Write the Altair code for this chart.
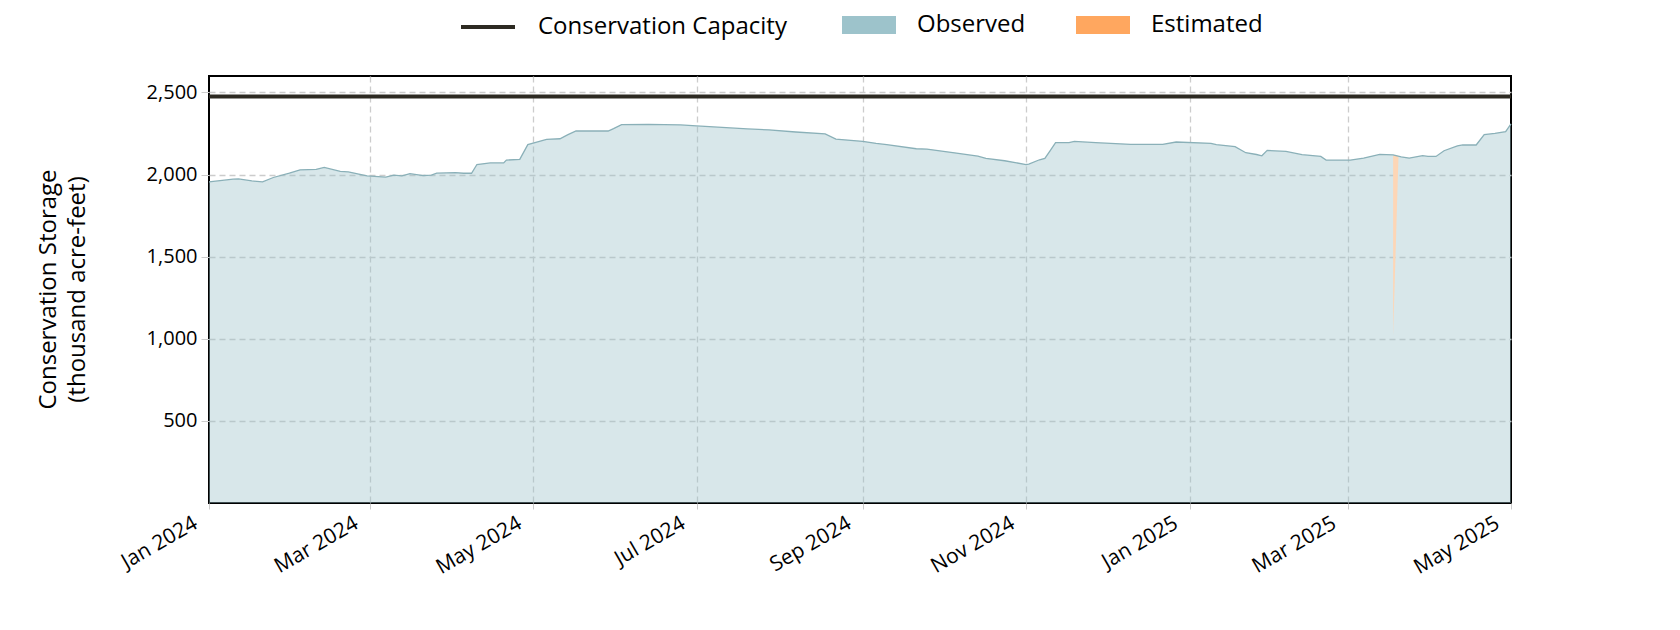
import altair as alt
import pandas as pd

FONT = "Open Sans"

obs_dates = [
    "2024-01-01", "2024-01-10", "2024-01-12", "2024-01-17", "2024-01-21", "2024-01-25",
    "2024-01-31", "2024-02-04", "2024-02-10", "2024-02-13", "2024-02-19", "2024-02-22",
    "2024-02-29", "2024-03-07", "2024-03-10", "2024-03-13", "2024-03-16", "2024-03-21",
    "2024-03-24", "2024-03-26", "2024-04-02", "2024-04-05", "2024-04-08", "2024-04-10",
    "2024-04-15", "2024-04-20", "2024-04-21", "2024-04-26", "2024-04-29", "2024-05-03",
    "2024-05-06", "2024-05-11", "2024-05-14", "2024-05-17", "2024-05-29", "2024-05-31",
    "2024-06-03", "2024-06-13", "2024-06-25", "2024-07-01", "2024-07-20", "2024-07-28",
    "2024-08-07", "2024-08-18", "2024-08-22", "2024-09-01", "2024-09-06", "2024-09-10",
    "2024-09-21", "2024-09-25", "2024-10-06", "2024-10-14", "2024-10-17", "2024-10-24",
    "2024-11-01", "2024-11-02", "2024-11-06", "2024-11-08", "2024-11-10", "2024-11-12",
    "2024-11-17", "2024-11-19", "2024-11-27", "2024-12-10", "2024-12-22", "2024-12-27",
    "2025-01-09", "2025-01-11", "2025-01-18", "2025-01-22", "2025-01-26", "2025-01-28",
    "2025-01-30", "2025-02-06", "2025-02-12", "2025-02-19", "2025-02-21", "2025-03-02",
    "2025-03-07", "2025-03-13", "2025-03-18", "2025-03-21", "2025-03-24", "2025-03-29",
    "2025-03-31", "2025-04-03", "2025-04-06", "2025-04-11", "2025-04-13", "2025-04-18",
    "2025-04-21", "2025-04-25", "2025-04-29", "2025-05-01",
]
obs_values = [
    1955, 1972, 1973, 1961, 1955, 1982,
    2008, 2029, 2032, 2043, 2019, 2016,
    1992, 1984, 1996, 1992, 2006, 1994,
    1996, 2008, 2012, 2008, 2008, 2061,
    2071, 2071, 2088, 2092, 2182, 2200,
    2214, 2218, 2243, 2265, 2265, 2280,
    2304, 2306, 2302, 2296, 2278, 2272,
    2259, 2247, 2216, 2202, 2190, 2182,
    2157, 2155, 2131, 2112, 2098, 2084,
    2061, 2063, 2090, 2098, 2145, 2194,
    2194, 2202, 2194, 2184, 2184, 2198,
    2190, 2182, 2170, 2133, 2122, 2114,
    2147, 2141, 2121, 2110, 2088, 2088,
    2100, 2123, 2120, 2108, 2100, 2115,
    2110, 2110, 2145, 2174, 2180, 2180,
    2243, 2251, 2261, 2308,
]

est_dates = ["2025-03-18", "2025-03-20"]
est_upper = [2118, 2110]
est_lower = [1020, 2110]

capacity = 2475
y_ticks = [500, 1000, 1500, 2000, 2500]
x_ticks = ["2024-01-01", "2024-03-01", "2024-05-01", "2024-07-01", "2024-09-01",
           "2024-11-01", "2025-01-01", "2025-03-01", "2025-05-01"]

obs = pd.DataFrame({"date": obs_dates, "value": obs_values, "series": "Observed"})
est = pd.DataFrame({"date": est_dates, "upper": est_upper, "lower": est_lower, "series": "Estimated"})
cap = pd.DataFrame({"label": ["Conservation Capacity"], "value": [capacity]})

x_scale = alt.Scale(domain=["2024-01-01T00:00:00", "2025-05-01T00:00:00"], nice=False)
y_scale = alt.Scale(domain=[0, 2600], nice=False, zero=True)

edge_test = ("datum.value <= time(datetime(2024, 0, 1)) + 3600000 || "
             "datum.value >= time(datetime(2025, 4, 1)) - 3600000")

x_axis = alt.Axis(
    values=[pd.Timestamp(d).isoformat() for d in x_ticks],
    format="%b %Y", labelAngle=-30, labelAlign="right", labelBaseline="top",
    labelOffset=-19, title=None, grid=True, gridDash=[6, 4], gridColor="#cccccc",
    gridOpacity={"condition": {"test": edge_test, "value": 0}, "value": 1},
    gridWidth=1.3, tickColor="#cccccc", tickSize=6, labelPadding=3, domain=False,
    labelFontSize=21, labelFont=FONT, labelColor="black", zindex=0,
)
y_axis = alt.Axis(
    values=y_ticks, format=",.0f", title=["Conservation Storage", "(thousand acre-feet)"],
    titleFontSize=24, titleFont=FONT, titleFontWeight="normal", titleColor="black",
    titleX=-161, titleY=213, titleBaseline="middle", titleLineHeight=29,
    grid=True, gridDash=[6, 4], gridColor="#cccccc", gridWidth=1.3,
    tickColor="#cccccc", tickSize=8, labelPadding=4, domain=False,
    labelFontSize=20, labelFont=FONT, labelColor="black", zindex=0,
)

fill_legend = alt.Legend(
    title=None, orient="none", legendX=633, legendY=-78, direction="horizontal",
    symbolType="M-1,-0.33H1V0.33H-1Z", symbolSize=2916, symbolOpacity=1,
    symbolStrokeWidth=0, labelFontSize=24, labelFont=FONT, labelColor="black",
    labelOffset=21, columnPadding=50, padding=0, labelLimit=0, gridAlign="none",
)
stroke_legend = alt.Legend(
    title=None, orient="none", legendX=250, legendY=-78, direction="horizontal",
    symbolType="stroke", symbolSize=2916, symbolStrokeWidth=4,
    labelFontSize=24, labelFont=FONT, labelColor="black", labelOffset=21, padding=0,
    labelLimit=0,
)

obs_area = alt.Chart(obs).mark_area(opacity=0.4).encode(
    x=alt.X("date:T", scale=x_scale, axis=x_axis),
    y=alt.Y("value:Q", scale=y_scale, axis=y_axis),
    fill=alt.Fill("series:N", scale=alt.Scale(domain=["Observed", "Estimated"],
                                                range=["#9dc3cb", "#ffa75f"]),
                  legend=fill_legend),
)
est_area = alt.Chart(est).mark_area(fill="#fdd6b6", opacity=1).encode(
    x=alt.X("date:T", scale=x_scale),
    y=alt.Y("upper:Q", scale=y_scale),
    y2="lower:Q",
)
obs_line = alt.Chart(obs).mark_line(color="#8ab0b8", strokeWidth=1.3).encode(
    x=alt.X("date:T", scale=x_scale),
    y=alt.Y("value:Q", scale=y_scale),
)
cap_rule = alt.Chart(cap).mark_rule(strokeWidth=4).encode(
    y=alt.Y("value:Q", scale=y_scale),
    stroke=alt.Stroke("label:N", scale=alt.Scale(range=["#2d2a22"]), legend=stroke_legend),
)

chart = alt.layer(obs_area, est_area, obs_line, cap_rule).resolve_scale(
    fill="independent", stroke="independent"
).properties(
    width=1302, height=427,
    autosize=alt.AutoSizeParams(type="none"),
    padding={"left": 201, "top": 68, "right": 161, "bottom": 119},
).configure(
    font=FONT,
    view=alt.ViewConfig(stroke="black", strokeWidth=2),
)

chart.save("out.html", embed_options={"renderer": "svg", "actions": False})
